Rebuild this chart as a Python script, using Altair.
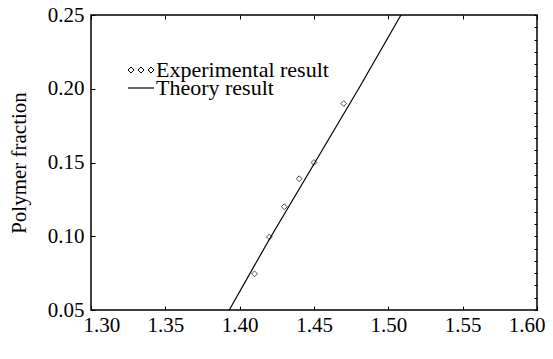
import altair as alt
import pandas as pd

# Experimental data
exp_n = [1.41, 1.42, 1.43, 1.44, 1.45, 1.47]
exp_frac = [0.0745, 0.0995, 0.120, 0.139, 0.150, 0.190]

# Theory line
theory_n = [1.393, 1.42, 1.45, 1.48, 1.5085]
theory_frac = [0.05, 0.098, 0.149, 0.200, 0.25]

x_ticks = [1.30, 1.35, 1.40, 1.45, 1.50, 1.55, 1.60]
y_ticks = [0.05, 0.10, 0.15, 0.20, 0.25]
y_minor = [round(0.05 + k * 0.05 / 6, 5) for k in range(25)]

series = ["Experimental result", "Theory result"]

W, H = 446, 295
FONT = "Liberation Serif"
FS = 21
LFS = 22

exp_df = pd.DataFrame({"n": exp_n, "frac": exp_frac, "series": series[0]})
th_df = pd.DataFrame({"n": theory_n, "frac": theory_frac, "series": series[1]})

xs = alt.Scale(domain=[1.30, 1.60], nice=False, zero=False)
ys = alt.Scale(domain=[0.05, 0.25], nice=False, zero=False)

DIAMONDS = ("M-2.6,0L-2,-0.6L-1.4,0L-2,0.6Z M-0.6,0L0,-0.6L0.6,0L0,0.6Z "
            "M1.4,0L2,-0.6L2.6,0L2,0.6Z")
LINEPATH = "M-2.6,0L2.6,0"

lab = dict(labelFont=FONT, labelFontSize=FS, labelColor="black",
           titleFont=FONT, titleFontSize=FS, titleColor="black",
           titleFontWeight="normal", grid=False, domain=False)

tick_only = dict(labels=False, domain=False, grid=False, ticks=True,
                 tickColor="black", tickWidth=1, title=None)

leg = dict(title=None, orient="none", padding=0, symbolSize=100,
           symbolStrokeColor="black", labelOffset=4, labelFont=FONT,
           labelFontSize=LFS, labelColor="black", labelLimit=400)

line = alt.Chart(th_df).mark_line(color="black", strokeWidth=1.2).encode(
    x=alt.X("n:Q", scale=xs, axis=alt.Axis(
        orient="bottom", values=x_ticks, format=".2f", ticks=False,
        labelPadding=4, labelFlush=True, labelFlushOffset=8,
        title="n", titleFontStyle="italic", titleBaseline="alphabetic",
        titleY=337, **lab)),
    y=alt.Y("frac:Q", scale=ys, axis=alt.Axis(
        orient="left", values=y_ticks, format=".2f", ticks=False,
        labelPadding=7, labelFlush=False,
        title="Polymer fraction", titleX=-72, titleBaseline="middle", **lab)),
    color=alt.Color("series:N", scale=alt.Scale(domain=[series[1]], range=["black"]),
                    legend=alt.Legend(legendX=39, legendY=62, symbolType=LINEPATH,
                                      symbolStrokeWidth=1.2, **leg)),
)

points = alt.Chart(exp_df).mark_point(
    shape="diamond", size=34, filled=False, color="black", strokeWidth=1
).encode(
    x=alt.X("n:Q", scale=xs, axis=alt.Axis(
        orient="top", offset=-H, values=x_ticks, tickSize=4, **tick_only)),
    y=alt.Y("frac:Q", scale=ys, axis=alt.Axis(
        orient="right", offset=-W, values=y_ticks, tickSize=4, **tick_only)),
)

legend_layer = alt.Chart(exp_df).mark_point(
    filled=False, color="black", opacity=0
).encode(
    x=alt.X("n:Q", scale=xs, axis=alt.Axis(
        orient="bottom", offset=-H, values=x_ticks, tickSize=4, **tick_only)),
    y=alt.Y("frac:Q", scale=ys, axis=alt.Axis(
        orient="left", offset=-W, values=y_minor, tickSize=3, **tick_only)),
    shape=alt.Shape("series:N", scale=alt.Scale(domain=[series[0]], range=[DIAMONDS]),
                    legend=alt.Legend(legendX=39, legendY=44, symbolOpacity=1,
                                      symbolFillColor="transparent",
                                      symbolStrokeWidth=1, **leg)),
)

chart = alt.layer(line, points, legend_layer).resolve_axis(
    x="independent", y="independent"
).resolve_legend(color="independent", shape="independent").properties(
    width=W, height=H,
    autosize=alt.AutoSizeParams(type="none"),
    padding={"left": 83, "top": 7, "right": 8, "bottom": 48},
).configure(background="white", font=FONT).configure_view(
    stroke="black", strokeWidth=1.5
).configure_axis(labelFont=FONT, titleFont=FONT).configure_legend(labelFont=FONT)

chart.save("out.html", embed_options={"renderer": "svg", "actions": False})
